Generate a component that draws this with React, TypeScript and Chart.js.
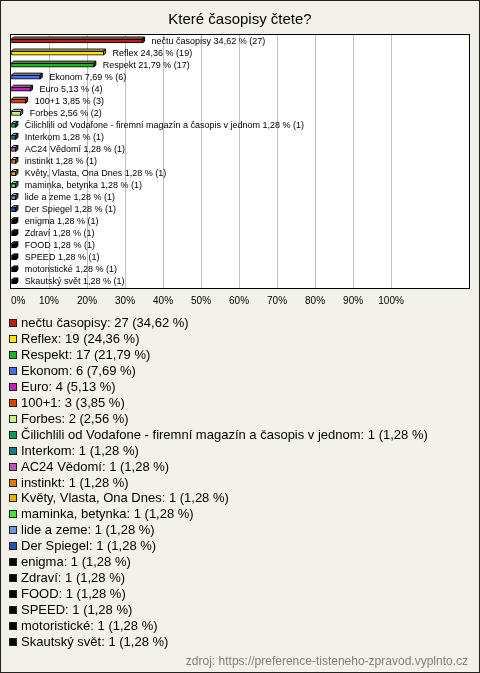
import React, { useEffect, useRef } from 'react';
import { Chart, registerables } from 'chart.js';

Chart.register(...registerables);

const TITLE = 'Které časopisy čtete?';
const SOURCE = 'zdroj: https://preference-tisteneho-zpravod.vyplnto.cz';

const categories = [
  'nečtu časopisy',
  'Reflex',
  'Respekt',
  'Ekonom',
  'Euro',
  '100+1',
  'Forbes',
  'Čilichlili od Vodafone - firemní magazín a časopis v jednom',
  'Interkom',
  'AC24 Vědomí',
  'instinkt',
  'Květy, Vlasta, Ona Dnes',
  'maminka, betynka',
  'lide a zeme',
  'Der Spiegel',
  'enigma',
  'Zdraví',
  'FOOD',
  'SPEED',
  'motoristické',
  'Skautský svět',
];

const counts = [27, 19, 17, 6, 4, 3, 2, 1, 1, 1, 1, 1, 1, 1, 1, 1, 1, 1, 1, 1, 1];

const percents = [
  34.62, 24.36, 21.79, 7.69, 5.13, 3.85, 2.56, 1.28, 1.28, 1.28, 1.28, 1.28, 1.28, 1.28,
  1.28, 1.28, 1.28, 1.28, 1.28, 1.28, 1.28,
];

const colors = [
  '#b8200f',
  '#ffe600',
  '#1cb51c',
  '#4a6ee8',
  '#c21ec2',
  '#e0400a',
  '#c8f587',
  '#129a5a',
  '#1a7890',
  '#b45ab4',
  '#e8780a',
  '#e6b400',
  '#3ee63e',
  '#6e96e6',
  '#2c50b4',
  '#000000',
  '#000000',
  '#000000',
  '#000000',
  '#000000',
  '#000000',
];

const X_MAX = 120.5;
const TICK_STEP = 10;
const TICK_LAST = 100;

const FONT = '"Liberation Sans", Arial, sans-serif';
const BG = '#f3f2e9';

function fmt(v: number): string {
  return v.toFixed(2).replace('.', ',');
}

function shade(hex: string, f: number): string {
  const n = parseInt(hex.slice(1), 16);
  let r = (n >> 16) & 255;
  let g = (n >> 8) & 255;
  let b = n & 255;
  if (f >= 0) {
    r = Math.round(r + (255 - r) * f);
    g = Math.round(g + (255 - g) * f);
    b = Math.round(b + (255 - b) * f);
  } else {
    r = Math.round(r * (1 + f));
    g = Math.round(g * (1 + f));
    b = Math.round(b * (1 + f));
  }
  return `rgb(${r},${g},${b})`;
}

const backgroundPlugin = {
  id: 'bgPlugin',
  beforeDraw(chart: any) {
    const { ctx, width, height, chartArea } = chart;
    ctx.save();
    ctx.fillStyle = BG;
    ctx.fillRect(0, 0, width, height);
    ctx.fillStyle = '#ffffff';
    ctx.fillRect(chartArea.left, chartArea.top, chartArea.right - chartArea.left, chartArea.bottom - chartArea.top);
    ctx.restore();
  },
  beforeDatasetsDraw(chart: any) {
    const { ctx, chartArea } = chart;
    ctx.save();
    ctx.strokeStyle = '#000';
    ctx.lineWidth = 1;
    ctx.strokeRect(
      chartArea.left - 0.5,
      chartArea.top - 0.5,
      chartArea.right - chartArea.left + 1,
      chartArea.bottom - chartArea.top + 1
    );
    ctx.restore();
  },
};

const bar3dPlugin = {
  id: 'bar3d',
  afterDatasetsDraw(chart: any) {
    const { ctx } = chart;
    const meta = chart.getDatasetMeta(0);
    const d = 2;
    ctx.save();
    ctx.lineWidth = 1;
    ctx.strokeStyle = '#000';
    meta.data.forEach((el: any, i: number) => {
      const p = el.getProps(['x', 'y', 'base', 'height'], true);
      const left = Math.min(p.base, p.x);
      const right = Math.max(p.base, p.x);
      const top = p.y - p.height / 2;
      const bottom = p.y + p.height / 2;
      const c = colors[i];
      // top face
      ctx.beginPath();
      ctx.moveTo(left, top);
      ctx.lineTo(left + d, top - d);
      ctx.lineTo(right + d, top - d);
      ctx.lineTo(right, top);
      ctx.closePath();
      ctx.fillStyle = c === '#000000' ? '#333' : shade(c, 0.45);
      ctx.fill();
      ctx.stroke();
      // right face
      ctx.beginPath();
      ctx.moveTo(right, top);
      ctx.lineTo(right + d, top - d);
      ctx.lineTo(right + d, bottom - d);
      ctx.lineTo(right, bottom);
      ctx.closePath();
      ctx.fillStyle = shade(c, -0.35);
      ctx.fill();
      ctx.stroke();
    });
    // value labels
    ctx.fillStyle = '#000';
    ctx.font = `9px ${FONT}`;
    ctx.textAlign = 'left';
    ctx.textBaseline = 'middle';
    meta.data.forEach((el: any, i: number) => {
      const p = el.getProps(['x', 'y'], true);
      ctx.fillText(`${categories[i]} ${fmt(percents[i])} % (${counts[i]})`, p.x + 9, p.y);
    });
    ctx.restore();
  },
};

const legendPlugin = {
  id: 'listLegend',
  afterDraw(chart: any) {
    const { ctx, width, height } = chart;
    const xScale = chart.scales.x;
    const startY = xScale.bottom + 9;
    const row = 15.95;
    ctx.save();
    ctx.font = `13px ${FONT}`;
    ctx.textAlign = 'left';
    ctx.textBaseline = 'middle';
    categories.forEach((cat, i) => {
      const y = Math.round(startY + i * row);
      ctx.fillStyle = colors[i];
      ctx.fillRect(9, y - 4, 8, 8);
      ctx.strokeStyle = '#222';
      ctx.lineWidth = 1;
      ctx.strokeRect(9.5, y - 3.5, 7, 7);
      ctx.fillStyle = '#000';
      ctx.fillText(`${cat}: ${counts[i]} (${fmt(percents[i])} %)`, 21, y + 0.5);
    });
    // source
    ctx.font = `12px ${FONT}`;
    ctx.fillStyle = '#808080';
    ctx.textAlign = 'right';
    ctx.fillText(SOURCE, width - 12, height - 11);
    // outer frame
    ctx.strokeStyle = '#222';
    ctx.strokeRect(0.5, 0.5, width - 1, height - 1);
    ctx.restore();
  },
};

export default function App() {
  const ref = useRef<HTMLCanvasElement | null>(null);

  useEffect(() => {
    document.body.style.margin = '0';
    if (!ref.current) return;
    const chart = new Chart(ref.current, {
      type: 'bar',
      data: {
        labels: categories,
        datasets: [
          {
            data: percents,
            backgroundColor: colors,
            borderColor: '#000',
            borderWidth: 1,
            borderSkipped: false,
            barThickness: 4,
          },
        ],
      },
      options: {
        indexAxis: 'y',
        responsive: false,
        animation: false,
        devicePixelRatio: 1,
        layout: { padding: { left: 11, right: 11, top: 0, bottom: 359 } },
        plugins: {
          legend: { display: false },
          tooltip: { enabled: false },
          title: {
            display: true,
            text: TITLE,
            color: '#000',
            font: { family: FONT, size: 15, weight: 'normal' },
            padding: { top: 11, bottom: 6 },
          },
        },
        scales: {
          x: {
            type: 'linear',
            min: 0,
            max: X_MAX,
            border: { display: false },
            afterFit: (s: any) => {
              s.paddingLeft = 0;
              s.paddingRight = 0;
            },
            grid: {
              drawTicks: false,
              color: (c: any) =>
                c.tick && c.tick.value > 0 && c.tick.value <= TICK_LAST ? '#c0c0c0' : 'rgba(0,0,0,0)',
            },
            ticks: {
              stepSize: TICK_STEP,
              autoSkip: false,
              maxRotation: 0,
              minRotation: 0,
              align: 'inner',
              padding: 7,
              color: '#000',
              font: { family: FONT, size: 10 },
              callback: (v: any) => (Number(v) <= TICK_LAST ? `${v}%` : ''),
            },
          },
          y: {
            type: 'category',
            display: false,
            offset: true,
          },
        },
      },
      plugins: [backgroundPlugin, bar3dPlugin, legendPlugin],
    } as any);
    return () => chart.destroy();
  }, []);

  return <canvas ref={ref} width={480} height={673} style={{ display: 'block' }} />;
}
